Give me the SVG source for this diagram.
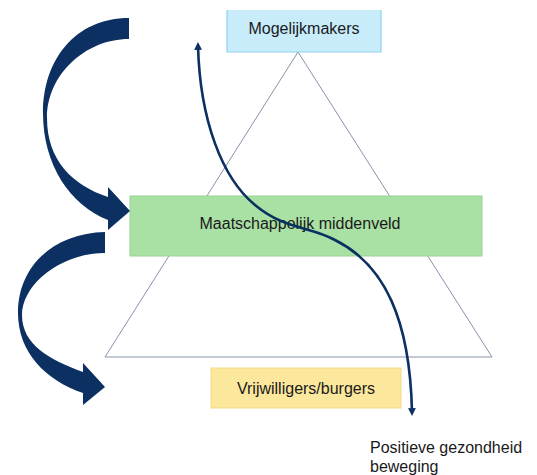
<svg xmlns="http://www.w3.org/2000/svg" width="537" height="475" viewBox="0 0 537 475">
<style>
.lbl{font-family:"Liberation Sans",Arial,sans-serif;font-size:16px;fill:#1a1a1a;text-anchor:middle}
.big{fill:#0b3061}
.flow{fill:none;stroke:#0b3061;stroke-width:2.6}
</style>
<defs>
<marker id="ah" viewBox="0 0 10 10" refX="5" refY="5" markerWidth="3" markerHeight="3" orient="auto-start-reverse">
<path d="M0,0 L10,5 L0,10 Z" fill="#0b3061"/>
</marker>
</defs>
<rect width="537" height="475" fill="#ffffff"/>
<g id="pyramid">
<polygon points="298,52 105,357 492,357" fill="none" stroke="#8493a8" stroke-width="1"/>
</g>
<g id="mogelijkmakers">
<rect x="227" y="10" width="154" height="42" fill="#c8ecfa"/>
<path d="M227,10 V52 H381 V10" fill="none" stroke="#8fd3ee" stroke-width="1.2"/>
<text class="lbl" x="304" y="34">Mogelijkmakers</text>
</g>
<g id="bottom-arrow">
<path class="big" d="M105,232 C55,233 18,265 18,313 C18,352 45,380 83,393 L83,405 L105,387 L83,363 L83,372 C50,360 22,345 22,315 C22,285 60,253 105,253 Z"/>
</g>
<g id="middenveld">
<rect x="130" y="196" width="352" height="60" fill="#a9e0a4" stroke="#97d492" stroke-width="1"/>
<text class="lbl" x="300" y="229">Maatschappelijk middenveld</text>
</g>
<g id="top-arrow">
<path class="big" d="M129,18 C75,18 43,60 43,113 C43,165 70,205 108,220 L108,230 L130,211 L108,187 L108,197 C72,185 47,160 47,118 C47,75 85,39 129,39 Z"/>
</g>
<g id="vrijwilligers">
<rect x="211" y="368" width="190" height="40" fill="#fce89c" stroke="#f3db87" stroke-width="1"/>
<text class="lbl" x="306" y="394">Vrijwilligers/burgers</text>
</g>
<g id="connectors">
<path class="flow" marker-start="url(#ah)" marker-end="url(#ah)" d="M198,46 C200,120 222,178 255,205 C285,230 310,226 335,240 C385,265 410,320 412,412"/>
</g>
<g id="outcome">
<text class="lbl" style="text-anchor:start" x="370" y="453">Positieve gezondheid</text>
<text class="lbl" style="text-anchor:start" x="370" y="472">beweging</text>
</g>
</svg>
